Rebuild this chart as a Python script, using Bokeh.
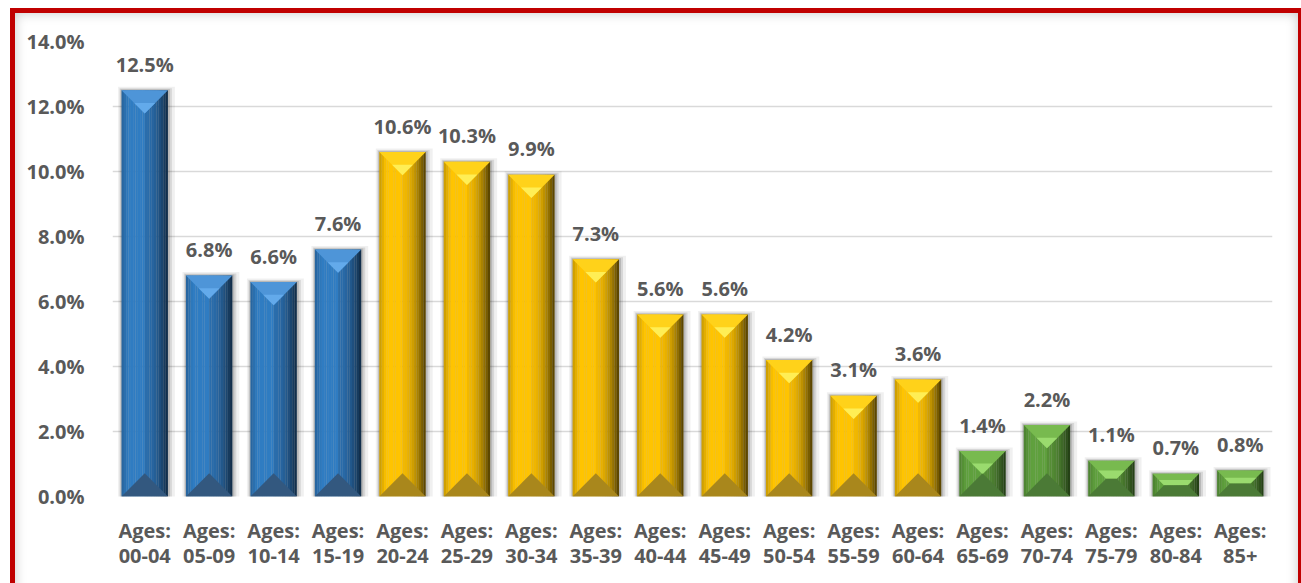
import numpy as np
from bokeh.plotting import figure
from bokeh.models import FixedTicker, PrintfTickFormatter, Range1d, InlineStyleSheet
from bokeh.embed import file_html
from bokeh.resources import INLINE
from bokeh.core.properties import value

# ---------------- data ----------------
age_groups = ["00-04", "05-09", "10-14", "15-19", "20-24", "25-29", "30-34", "35-39",
              "40-44", "45-49", "50-54", "55-59", "60-64", "65-69", "70-74", "75-79",
              "80-84", "85+"]
shares = [12.5, 6.8, 6.6, 7.6, 10.6, 10.3, 9.9, 7.3, 5.6, 5.6, 4.2, 3.1, 3.6,
          1.4, 2.2, 1.1, 0.7, 0.8]
groups = ["young"] * 4 + ["working"] * 9 + ["old"] * 5
y_ticks = [0, 2, 4, 6, 8, 10, 12, 14]

# ---------------- styles ----------------
palette = {
    "young":   dict(left="#2F7CC2", ridge="#2A6DAC", dark="#0B1C2E", top="#4E95D8", apex="#63AAEB", bottom="#33587F"),
    "working": dict(left="#FFC400", ridge="#F2B800", dark="#2E2400", top="#FFD21A", apex="#FFEE55", bottom="#A9871C"),
    "old":     dict(left="#5FA03D", ridge="#568F36", dark="#15280C", top="#78BA4F", apex="#9ADB6E", bottom="#4B7A36"),
}
FONT = value("Open Sans")
TXT = "#595959"
W = 1301
H = 583
FL, FR, FT, FB = 112, 29, 41, 87        # frame borders in px
BAR_W = 0.72

n = len(shares)
xs = np.arange(1, n + 1, dtype=float)
vals = np.array(shares, dtype=float)

px_x = (W - FL - FR) / n                # px per x unit
px_y = (H - FT - FB) / 14.0             # px per y unit


def hex2rgb(h):
    h = h.lstrip("#")
    return np.array([int(h[i:i + 2], 16) for i in (0, 2, 4)], dtype=float)


def mix(a, b, t):
    c = hex2rgb(a) * (1 - t) + hex2rgb(b) * t
    return "#%02x%02x%02x" % tuple(int(round(v)) for v in c)


p = figure(width=W, height=H, output_backend="svg", toolbar_location=None,
           x_range=Range1d(0.5, n + 0.5), y_range=Range1d(0, 14),
           min_border_left=FL, min_border_right=FR, min_border_top=FT, min_border_bottom=FB)
p.outline_line_color = None
p.background_fill_color = "white"
p.border_fill_color = "white"

# red frame with a soft inner shadow (CSS overlay on the figure element)
p.stylesheets = [InlineStyleSheet(css="""
:host { position: relative; }
:host::after {
  content: ""; position: absolute; left: 10px; top: 8px; width: 1293px; height: 620px;
  border: 5px solid #C00000; box-sizing: border-box; pointer-events: none; z-index: 20;
  box-shadow: inset 0 0 12px rgba(0,0,0,0.22);
}
""")]

# shadows
half = BAR_W / 2
for grow, alpha in [(7, 0.06), (4, 0.10), (2, 0.14)]:
    p.quad(left=xs - half - grow / px_x * 0.5, right=xs + half + grow / px_x,
           top=vals + grow / px_y * 0.5, bottom=np.zeros(n) - grow / px_y,
           fill_color="#000000", fill_alpha=alpha, line_color=None)

# bar bodies: left half and right half in strips
nstrip = 10
for i in range(n):
    c = palette[groups[i]]
    xl, xr = xs[i] - half, xs[i] + half
    lefts, rights, cols = [], [], []
    for k in range(nstrip):
        f0, f1 = k / nstrip, (k + 1) / nstrip
        lefts.append(xl + (xs[i] - xl) * f0)
        rights.append(xl + (xs[i] - xl) * f1 + 0.002)
        t = max(0.0, 0.35 - f1) * 0.9
        cols.append(mix(c["left"], c["dark"], t))
    for k in range(nstrip):
        f0, f1 = k / nstrip, (k + 1) / nstrip
        lefts.append(xs[i] + (xr - xs[i]) * f0)
        rights.append(xs[i] + (xr - xs[i]) * f1 + (0.002 if k < nstrip - 1 else 0))
        t = (f0 ** 1.8) * 0.92
        cols.append(mix(c["ridge"], c["dark"], t))
    p.quad(left=lefts, right=rights, top=[vals[i]] * len(lefts), bottom=[0] * len(lefts),
           fill_color=cols, line_color=None)

# bevel faces (top and bottom)
top_xs, top_ys, top_cols = [], [], []
ap_xs, ap_ys, ap_cols = [], [], []
bot_xs, bot_ys, bot_cols = [], [], []
s = 0.55
for i in range(n):
    c = palette[groups[i]]
    xl, xr = xs[i] - half, xs[i] + half
    b_px = min(half * px_x, vals[i] * px_y / 2)
    bx, by = b_px / px_x, b_px / px_y
    v = vals[i]
    top_xs.append([xl, xr, xr - bx, xl + bx])
    top_ys.append([v, v, v - by, v - by])
    top_cols.append(c["top"])
    ap_xs.append([xl + bx * s, xr - bx * s, xr - bx, xl + bx])
    ap_ys.append([v - by * s, v - by * s, v - by, v - by])
    ap_cols.append(c["apex"])
    bot_xs.append([xl, xr, xr - bx, xl + bx])
    bot_ys.append([0, 0, by, by])
    bot_cols.append(c["bottom"])

p.patches(top_xs, top_ys, fill_color=top_cols, line_color=None)
p.patches(ap_xs, ap_ys, fill_color=ap_cols, line_color=None)
p.patches(bot_xs, bot_ys, fill_color=bot_cols, line_color=None)

# data labels
p.text(x=xs, y=vals, text=["%.1f%%" % v for v in shares], text_align="center",
       text_baseline="middle", y_offset=-26, text_font=FONT, text_font_style="bold",
       text_font_size="20px", text_color=TXT)

# axes
p.xaxis.ticker = FixedTicker(ticks=list(xs))
p.xaxis.major_label_overrides = {int(x): "Ages:\n" + a for x, a in zip(xs, age_groups)}
p.xaxis.axis_line_color = None
p.xaxis.major_tick_line_color = None
p.xaxis.minor_tick_line_color = None
p.xaxis.major_label_standoff = 14
p.xaxis.major_label_text_line_height = 0.95
p.yaxis.ticker = FixedTicker(ticks=y_ticks)
p.yaxis.formatter = PrintfTickFormatter(format="%.1f%%")
p.yaxis.axis_line_color = None
p.yaxis.major_tick_line_color = None
p.yaxis.minor_tick_line_color = None
p.yaxis.major_label_standoff = 22
for ax in (p.xaxis[0], p.yaxis[0]):
    ax.major_label_text_font = "Open Sans"
    ax.major_label_text_font_style = "bold"
    ax.major_label_text_font_size = "20px"
    ax.major_label_text_color = TXT
p.xgrid.grid_line_color = None
p.ygrid.grid_line_color = "#D9D9D9"
p.ygrid.grid_line_width = 1.5

open("out.html", "w").write(file_html(p, INLINE))
